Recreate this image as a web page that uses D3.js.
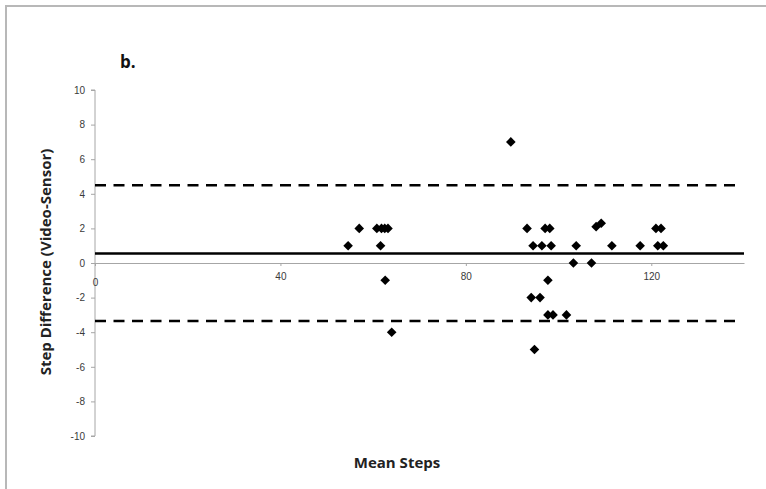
<!DOCTYPE html>
<html>
<head>
<meta charset="utf-8">
<script src="https://cdn.jsdelivr.net/npm/d3@7"></script>
<style>
  body { margin: 0; background: #fff; }
  svg { display: block; font-family: "Open Sans", "DejaVu Sans", sans-serif; }
  .tick text { fill: #3a3a3a; font-size: 10px; }
  .axis path, .axis line { stroke: #a6a6a6; }
</style>
</head>
<body>
<div id="chart"></div>
<script>
// mean steps (x) and step difference video - sensor (y)
var meanSteps = [54.6, 57.0, 60.8, 61.8, 62.5, 63.2, 61.6, 62.6, 64.0,
                 89.7, 93.2, 97.1, 98.1, 94.5, 96.4, 98.4, 97.7, 94.1, 96.0,
                 97.7, 98.8, 101.7, 94.8, 103.8, 103.2, 107.1, 108.1, 109.2,
                 111.5, 117.6, 121.0, 122.1, 121.4, 122.6];
var stepDiff  = [1, 2, 2, 2, 2, 2, 1, -1, -4,
                 7, 2, 2, 2, 1, 1, 1, -1, -2, -2,
                 -3, -3, -3, -5, 1, 0, 0, 2.1, 2.3,
                 1, 1, 2, 2, 1, 1];
var meanDiff = 0.55;
var limits = [4.5, -3.35];
var xTicks = [0, 40, 80, 120];
var yTicks = [-10, -8, -6, -4, -2, 0, 2, 4, 6, 8, 10];

var width = 766, height = 489;

var svg = d3.select("#chart").append("svg")
  .attr("width", width)
  .attr("height", height);

// frame of the pasted figure
svg.append("path")
  .attr("d", "M6,495 L6,6 L770,6")
  .attr("fill", "none")
  .attr("stroke", "#b8b8b8")
  .attr("stroke-width", 2);

var x = d3.scaleLinear().domain([0, 140]).range([95, 744]);
var y = d3.scaleLinear().domain([-10, 10]).range([436, 90]);

// y axis (plain hyphen for negatives, like the original)
svg.append("g")
  .attr("class", "axis yaxis")
  .attr("transform", "translate(" + x(0) + ",0)")
  .call(d3.axisLeft(y).tickValues(yTicks).tickFormat(d => String(d))
    .tickSize(4).tickSizeOuter(4).tickPadding(6))
  .call(g => g.select(".domain").attr("d", "M-4," + y(10) + "H0V" + y(-10) + "H-4"));

// x axis through zero
svg.append("g")
  .attr("class", "axis xaxis")
  .attr("transform", "translate(0," + y(0) + ")")
  .call(d3.axisBottom(x).tickValues(xTicks).tickFormat(d => String(d))
    .tickSize(3).tickSizeOuter(0).tickPadding(7));

svg.select(".xaxis .tick text").attr("dy", "1.3em");

// mean and limits of agreement
svg.append("line")
  .attr("x1", x(0)).attr("x2", x(140))
  .attr("y1", y(meanDiff)).attr("y2", y(meanDiff))
  .attr("stroke", "#000").attr("stroke-width", 2.5);

svg.selectAll(".limit")
  .data(limits).enter()
  .append("line")
  .attr("class", "limit")
  .attr("x1", x(0)).attr("x2", x(139))
  .attr("y1", d => y(d)).attr("y2", d => y(d))
  .attr("stroke", "#000").attr("stroke-width", 2.5)
  .attr("stroke-dasharray", "11,7.5");

// diamonds
var r = 4.8;
svg.append("g")
  .selectAll("path")
  .data(meanSteps).enter()
  .append("path")
  .attr("d", (d, i) => {
    var cx = x(d), cy = y(stepDiff[i]);
    return "M" + cx + "," + (cy - r) + "L" + (cx + r) + "," + cy +
      "L" + cx + "," + (cy + r) + "L" + (cx - r) + "," + cy + "Z";
  })
  .attr("fill", "#000");

// titles
svg.append("text")
  .attr("x", 120).attr("y", 68)
  .attr("font-size", 17).attr("font-weight", "bold")
  .attr("fill", "#111")
  .text("b.");

svg.append("text")
  .attr("transform", "translate(51,262) rotate(-90)")
  .attr("text-anchor", "middle")
  .attr("font-size", 15).attr("font-weight", "bold")
  .attr("fill", "#222")
  .text("Step Difference (Video-Sensor)");

svg.append("text")
  .attr("x", 397).attr("y", 468)
  .attr("text-anchor", "middle")
  .attr("font-size", 15).attr("font-weight", "bold")
  .attr("fill", "#222")
  .text("Mean Steps");
</script>
</body>
</html>
